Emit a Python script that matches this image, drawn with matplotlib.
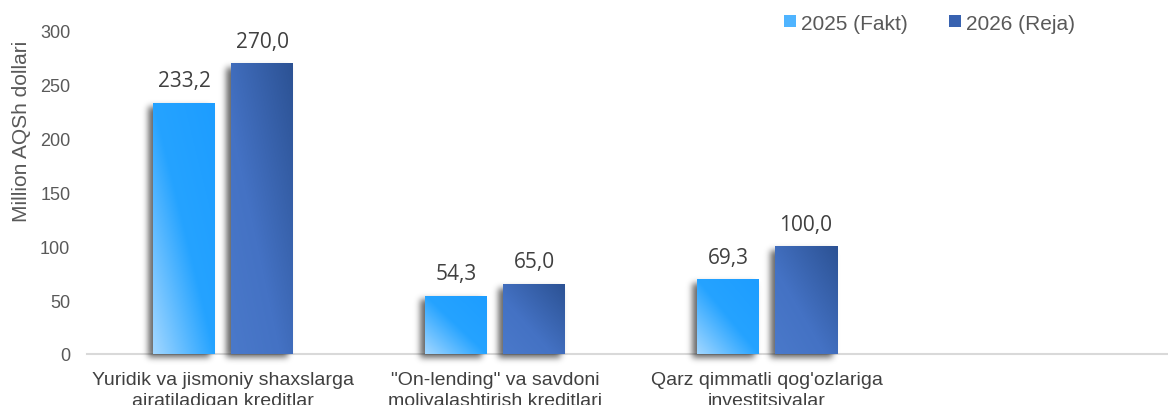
import math
import numpy as np
import matplotlib
matplotlib.use("Agg")
import matplotlib.pyplot as plt
from matplotlib.colors import LinearSegmentedColormap
from matplotlib.patches import Rectangle

categories = ["Yuridik va jismoniy shaxslarga\najratiladigan kreditlar",
              "\"On-lending\" va savdoni\nmoliyalashtirish kreditlari",
              "Qarz qimmatli qog'ozlariga\ninvestitsiyalar"]
series_names = ["2025 (Fakt)", "2026 (Reja)"]
fakt_2025 = [233.2, 54.3, 69.3]
reja_2026 = [270.0, 65.0, 100.0]
value_labels_2025 = ["233,2", "54,3", "69,3"]
value_labels_2026 = ["270,0", "65,0", "100,0"]
yticks = [0, 50, 100, 150, 200, 250, 300]

W, H = 1168, 406
fig = plt.figure(figsize=(W / 100, H / 100), dpi=100)
ax = fig.add_axes([87 / W, 1 - 355 / H, 1 - 87 / W, (355 - 32) / H])

xlim = (-0.5, 3.474)
ylim = (0, 300)
ax.set_xlim(*xlim)
ax.set_ylim(*ylim)

# px per data unit
sx = (W - 87) / (xlim[1] - xlim[0])
sy = 323 / 300.0

cmap_a = LinearSegmentedColormap.from_list("a", [(0, "#a2d7ff"), (0.5, "#25a3ff"), (1, "#1d9dff")])
cmap_b = LinearSegmentedColormap.from_list("b", [(0, "#4a79ca"), (0.4, "#4472c4"), (1, "#2c5294")])

verf = np.vectorize(math.erf)

bw = 62 / sx
off = 39 / sx
x = np.arange(len(categories))


def draw_bar(xc, h, cmap):
    x0, x1 = xc - bw / 2, xc + bw / 2
    # soft shadow (left / down)
    m = 16
    dx, dy = -5.0, -4.0
    gx = np.linspace(x0 - m / sx, x1 + m / sx, 140)
    gy = np.linspace(-m / sy, h + m / sy, 220)
    px = (gx - x0) * sx
    py = gy * sy
    wpx = (x1 - x0) * sx
    hpx = h * sy
    s = 4.5
    fx = 0.5 * (verf((px - dx) / s) - verf((px - dx - wpx) / s))
    fy = 0.5 * (verf((py - dy) / s) - verf((py - dy - hpx) / s))
    a = 0.6 * np.outer(fy, fx)
    img = np.zeros((len(gy), len(gx), 4))
    img[..., 3] = a
    ax.imshow(img, extent=(gx[0], gx[-1], gy[0], gy[-1]), origin="lower",
              aspect="auto", zorder=1.5, clip_on=False, interpolation="bilinear")
    # gradient bar
    n = 100
    xf = np.linspace(0, 1, n)
    yf = np.linspace(0, 1, n)
    t = (xf[None, :] + yf[:, None]) / 2
    rect = Rectangle((x0, 0), bw, h, facecolor="none", edgecolor="none")
    ax.add_patch(rect)
    im = ax.imshow(cmap(t), extent=(x0, x1, 0, h), origin="lower",
                   aspect="auto", zorder=2, interpolation="bilinear")
    im.set_clip_path(rect)


for i in range(len(categories)):
    draw_bar(x[i] - off, fakt_2025[i], cmap_a)
    draw_bar(x[i] + off, reja_2026[i], cmap_b)
    ax.annotate(value_labels_2025[i], (x[i] - off, fakt_2025[i]), xytext=(0, 12),
                textcoords="offset points", ha="center", va="baseline",
                fontsize=15, family="Open Sans", color="#404040")
    ax.annotate(value_labels_2026[i], (x[i] + off, reja_2026[i]), xytext=(0, 12),
                textcoords="offset points", ha="center", va="baseline",
                fontsize=15, family="Open Sans", color="#404040")

ax.set_xlim(*xlim)
ax.set_ylim(*ylim)

for sp in ["top", "right", "left"]:
    ax.spines[sp].set_visible(False)
ax.spines["bottom"].set_color("#d9d9d9")
ax.spines["bottom"].set_linewidth(1.5)
ax.spines["bottom"].set_zorder(1)

ax.set_yticks(yticks)
ax.set_yticklabels([str(v) for v in yticks])
ax.set_xticks(x)
ax.set_xticklabels(categories)
ax.tick_params(axis="y", length=0, pad=12, labelsize=13, labelcolor="#595959")
ax.tick_params(axis="x", length=0, pad=12, labelsize=14, labelcolor="#404040")
for lab in ax.get_xticklabels() + ax.get_yticklabels():
    lab.set_family("Liberation Sans")
for lab in ax.get_xticklabels():
    lab.set_linespacing(1.3)

fig.text(22 / W, 1 - 131 / H, "Million AQSh dollari", rotation=90, ha="center",
         va="center", fontsize=15, family="Liberation Sans", color="#595959")

handles = [Rectangle((0, 0), 1, 1, facecolor="#4fb4ff", edgecolor="none"),
           Rectangle((0, 0), 1, 1, facecolor="#3862b0", edgecolor="none")]
leg = fig.legend(handles, series_names, loc="center right",
                 bbox_to_anchor=(1075 / W, 1 - 24 / H), ncol=2, frameon=False,
                 prop={"family": "Liberation Sans", "size": 15},
                 handlelength=0.55, handleheight=0.55, handletextpad=0.25,
                 columnspacing=2.0, borderpad=0, borderaxespad=0)
for t in leg.get_texts():
    t.set_color("#595959")

fig.savefig("out.png", dpi=100)
